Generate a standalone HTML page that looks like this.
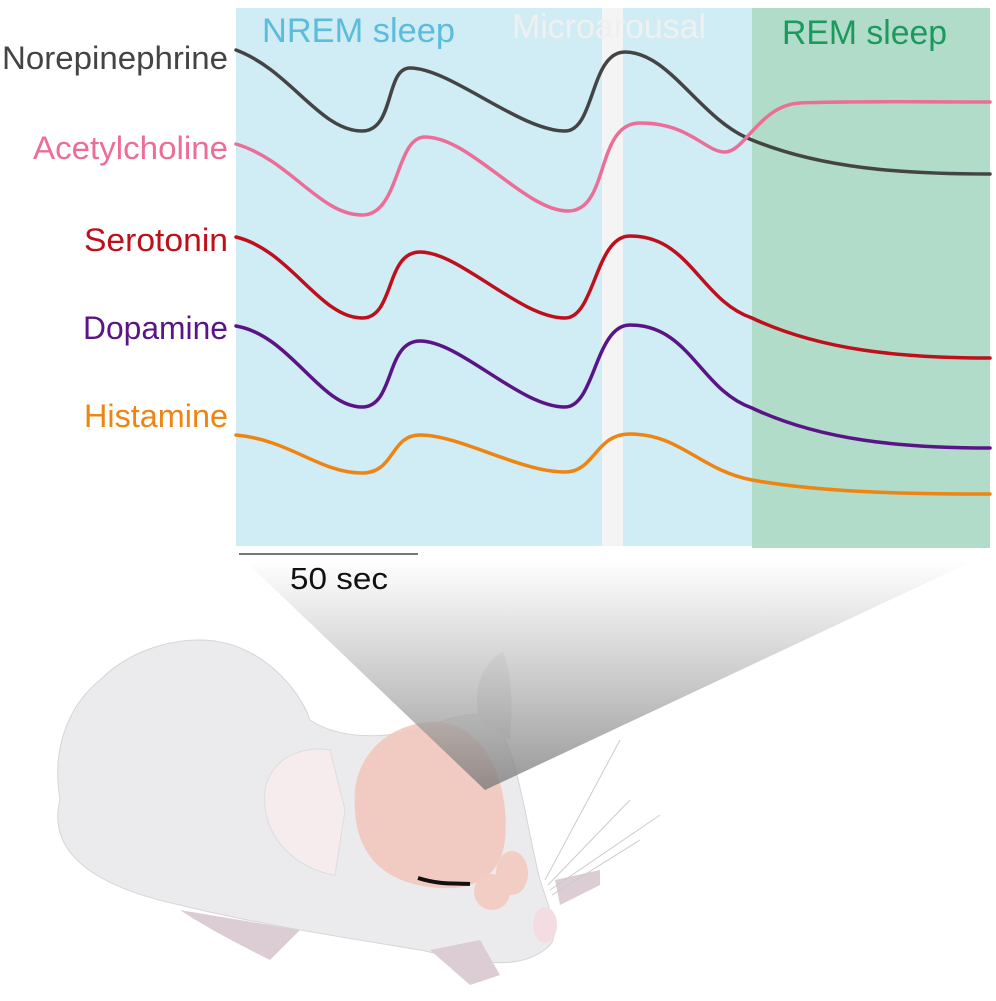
<!DOCTYPE html>
<html><head><meta charset="utf-8"><style>
body{margin:0;background:#fff;width:996px;height:996px;overflow:hidden;font-family:"Liberation Sans",sans-serif}
</style></head><body>
<svg width="996" height="996" viewBox="0 0 996 996" xmlns="http://www.w3.org/2000/svg">
<defs>
<linearGradient id="cone" x1="0" y1="0" x2="0" y2="1">
<stop offset="0" stop-color="#ffffff" stop-opacity="0.9"/>
<stop offset="1" stop-color="#777" stop-opacity="0.95"/>
</linearGradient>
</defs>
<rect x="236" y="8" width="366" height="538" fill="#d0ecf4"/>
<rect x="602" y="8" width="21" height="538" fill="#f4f4f4"/>
<rect x="623" y="8" width="129" height="538" fill="#d0ecf4"/>
<rect x="752" y="8" width="238" height="540" fill="#b1dcc9"/>
<g font-size="34" font-family="Liberation Sans,sans-serif">
<text x="262" y="42" fill="#5bbcdc" textLength="193" lengthAdjust="spacingAndGlyphs">NREM sleep</text>
<text x="512" y="38" fill="#f0f0f0" textLength="194" lengthAdjust="spacingAndGlyphs">Microarousal</text>
<text x="782" y="44" fill="#1a9a5c" textLength="165" lengthAdjust="spacingAndGlyphs">REM sleep</text>
</g>
<g font-size="32" font-family="Liberation Sans,sans-serif">
<text x="2" y="69" fill="#444" textLength="226" lengthAdjust="spacingAndGlyphs">Norepinephrine</text>
<text x="33" y="159" fill="#ec6e96" textLength="195" lengthAdjust="spacingAndGlyphs">Acetylcholine</text>
<text x="84" y="251" fill="#be0f1c" textLength="144" lengthAdjust="spacingAndGlyphs">Serotonin</text>
<text x="83" y="339" fill="#5a1485" textLength="145" lengthAdjust="spacingAndGlyphs">Dopamine</text>
<text x="84" y="427" fill="#ee8512" textLength="144" lengthAdjust="spacingAndGlyphs">Histamine</text>
</g>
<g fill="none" stroke-width="3.5" stroke-linecap="round">
<path d="M236,50 C290,70 320,131 362,131 C395,131 385,68 410,68 C450,68 520,131 565,131 C595,131 590,52 625,52 C670,52 700,120 752,140 C820,168 900,174 990,174" stroke="#444"/>
<path d="M236,144 C290,160 320,215 362,215 C400,215 395,137 425,137 C470,137 525,211 568,211 C610,211 595,123 640,123 C690,123 705,152 725,152 C745,152 760,105 800,103 C850,101 920,102 990,102" stroke="#ec6e96"/>
<path d="M236,237 C290,250 320,318 362,318 C395,318 385,252 420,252 C460,252 520,318 565,318 C595,318 595,236 630,236 C690,236 700,300 752,318 C820,350 900,358 990,358" stroke="#be0f1c"/>
<path d="M236,326 C290,335 320,407 362,407 C395,407 385,341 420,341 C460,341 520,407 565,407 C595,407 595,325 630,325 C690,325 700,390 752,408 C820,440 900,448 990,448" stroke="#5a1485"/>
<path d="M236,435 C290,440 320,473 362,473 C395,473 390,435 420,435 C460,435 520,472 565,472 C595,472 595,434 630,434 C680,434 700,470 752,480 C820,492 900,494 990,494" stroke="#ee8512"/>
</g>
<line x1="239" y1="554" x2="418" y2="554" stroke="#777" stroke-width="2"/>
<path d="M60,800 C50,740 75,700 100,680 C130,650 170,640 200,640 C260,640 300,690 310,720 C340,740 390,740 430,725 C460,715 480,710 495,720 C520,760 525,820 540,880 C550,910 560,935 550,945 C520,975 470,960 420,950 C360,940 260,925 180,905 C110,890 45,860 60,800 Z" fill="#ebebed" stroke="#d6d6d8"/>
<path d="M480,720 C470,690 485,660 503,652 C512,670 513,710 510,740 Z" fill="#e2e2e4"/>
<path d="M265,790 C270,760 300,745 330,750 L345,810 L335,875 C300,870 260,840 265,790 Z" fill="#f6ecee" stroke="#ddd"/>
<path d="M355,790 C360,745 400,720 440,722 C490,728 510,790 505,840 C500,880 470,890 440,888 C390,885 350,860 355,790 Z" fill="#f2c8bd" opacity="0.9"/>
<ellipse cx="512" cy="873" rx="16" ry="22" fill="#f1cdc3"/>
<ellipse cx="492" cy="892" rx="18" ry="18" fill="#f1cdc3"/>
<path d="M418,878 C440,885 455,883 470,884" stroke="#111" stroke-width="4" fill="none"/>
<ellipse cx="545" cy="925" rx="12" ry="18" fill="#f3dde2"/>
<path d="M180,910 C210,930 250,950 270,960 L300,930 Z" fill="#dccdd4"/>
<path d="M430,950 L470,985 L500,975 L480,940 Z" fill="#dccdd4"/>
<path d="M555,880 L600,870 L600,885 L560,905 Z" fill="#dccdd4"/>
<g stroke="#ccc" stroke-width="1" fill="none">
<path d="M545,880 L620,740"/><path d="M548,885 L630,800"/><path d="M550,890 L660,815"/><path d="M552,895 L640,840"/>
</g>
<path d="M244,560 L975,560 L485,790 Z" fill="url(#cone)" opacity="0.8"/>
<text x="290" y="589" font-size="31" fill="#111" textLength="98" lengthAdjust="spacingAndGlyphs">50 sec</text>
</svg>
</body></html>
